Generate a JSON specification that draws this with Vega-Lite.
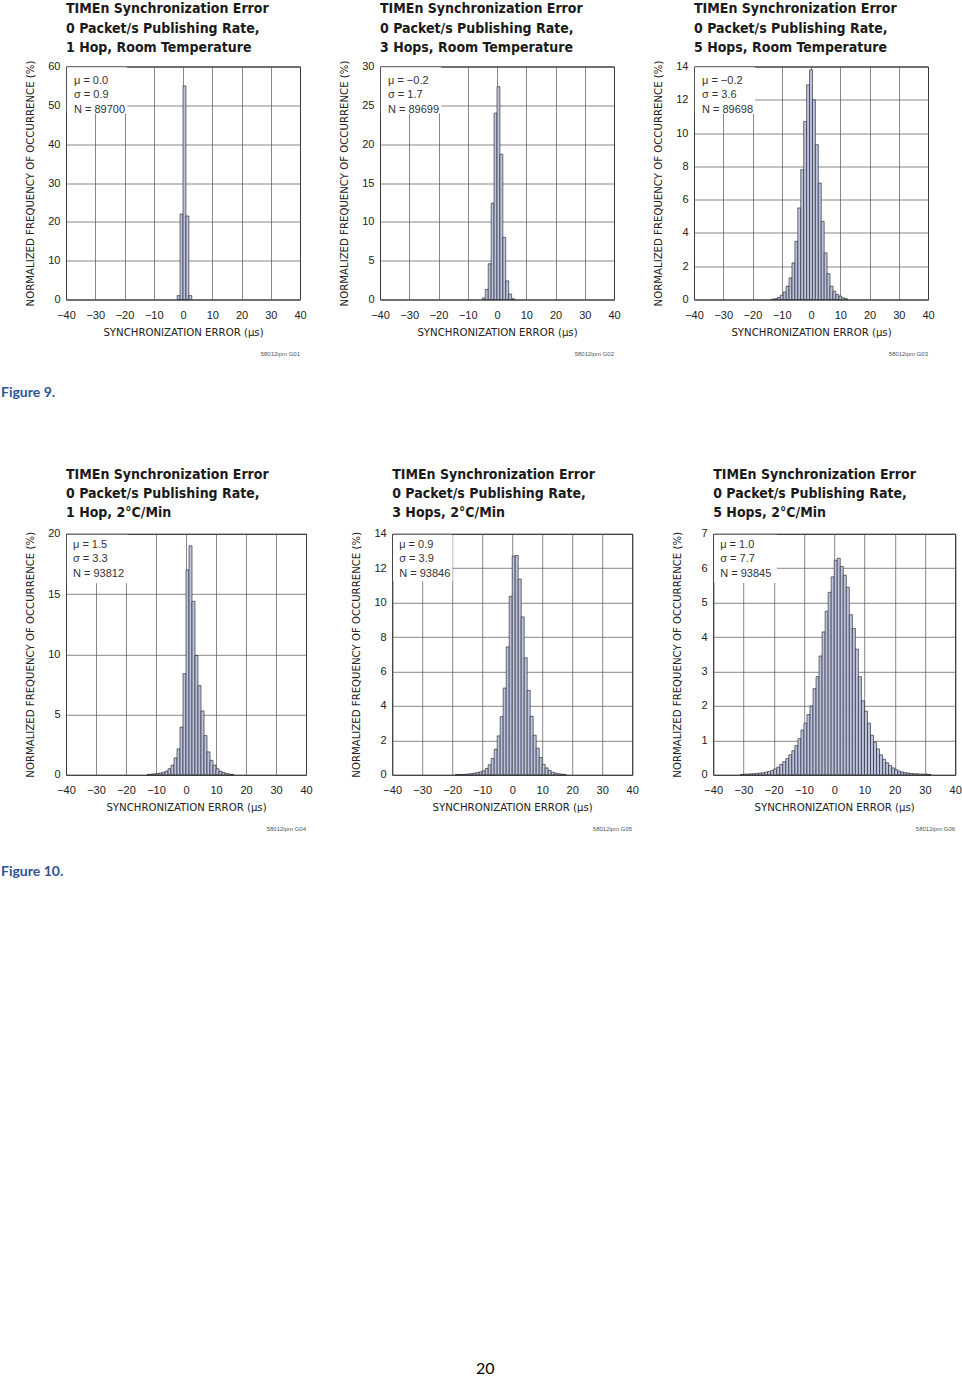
{
  "$schema": "https://vega.github.io/schema/vega-lite/v6.json",
  "background": "white",
  "padding": {"left": 0, "top": 1.5, "right": 0, "bottom": 0},
  "spacing": 66.3,
  "datasets": {
    "g01": [
      {"x0": -2, "x1": -1, "pct": 1.0},
      {"x0": -1, "x1": 0, "pct": 22.0},
      {"x0": 0, "x1": 1, "pct": 55.0},
      {"x0": 1, "x1": 2, "pct": 21.5},
      {"x0": 2, "x1": 3, "pct": 1.0}
    ],
    "g02": [
      {"x0": -5, "x1": -4, "pct": 0.2},
      {"x0": -4, "x1": -3, "pct": 1.3},
      {"x0": -3, "x1": -2, "pct": 4.6},
      {"x0": -2, "x1": -1, "pct": 12.4},
      {"x0": -1, "x1": 0, "pct": 24.0},
      {"x0": 0, "x1": 1, "pct": 27.4},
      {"x0": 1, "x1": 2, "pct": 18.7},
      {"x0": 2, "x1": 3, "pct": 8.0},
      {"x0": 3, "x1": 4, "pct": 2.4},
      {"x0": 4, "x1": 5, "pct": 0.7},
      {"x0": 5, "x1": 6, "pct": 0.1}
    ],
    "g03": [
      {"x0": -13.5, "x1": -12.5, "pct": 0.02},
      {"x0": -12.5, "x1": -11.5, "pct": 0.05},
      {"x0": -11.5, "x1": -10.5, "pct": 0.12},
      {"x0": -10.5, "x1": -9.5, "pct": 0.25},
      {"x0": -9.5, "x1": -8.5, "pct": 0.45},
      {"x0": -8.5, "x1": -7.5, "pct": 0.8},
      {"x0": -7.5, "x1": -6.5, "pct": 1.3},
      {"x0": -6.5, "x1": -5.5, "pct": 2.2},
      {"x0": -5.5, "x1": -4.5, "pct": 3.5},
      {"x0": -4.5, "x1": -3.5, "pct": 5.5},
      {"x0": -3.5, "x1": -2.5, "pct": 7.8},
      {"x0": -2.5, "x1": -1.5, "pct": 10.7},
      {"x0": -1.5, "x1": -0.5, "pct": 12.9},
      {"x0": -0.5, "x1": 0.5, "pct": 13.8},
      {"x0": 0.5, "x1": 1.5, "pct": 12.0},
      {"x0": 1.5, "x1": 2.5, "pct": 9.3},
      {"x0": 2.5, "x1": 3.5, "pct": 7.0},
      {"x0": 3.5, "x1": 4.5, "pct": 4.7},
      {"x0": 4.5, "x1": 5.5, "pct": 2.8},
      {"x0": 5.5, "x1": 6.5, "pct": 1.55},
      {"x0": 6.5, "x1": 7.5, "pct": 0.8},
      {"x0": 7.5, "x1": 8.5, "pct": 0.5},
      {"x0": 8.5, "x1": 9.5, "pct": 0.3},
      {"x0": 9.5, "x1": 10.5, "pct": 0.2},
      {"x0": 10.5, "x1": 11.5, "pct": 0.1},
      {"x0": 11.5, "x1": 12.5, "pct": 0.05}
    ],
    "g04": [
      {"x0": -13, "x1": -12, "pct": 0.03},
      {"x0": -12, "x1": -11, "pct": 0.05},
      {"x0": -11, "x1": -10, "pct": 0.08},
      {"x0": -10, "x1": -9, "pct": 0.1},
      {"x0": -9, "x1": -8, "pct": 0.15},
      {"x0": -8, "x1": -7, "pct": 0.2},
      {"x0": -7, "x1": -6, "pct": 0.3},
      {"x0": -6, "x1": -5, "pct": 0.5},
      {"x0": -5, "x1": -4, "pct": 0.8},
      {"x0": -4, "x1": -3, "pct": 1.4},
      {"x0": -3, "x1": -2, "pct": 2.15},
      {"x0": -2, "x1": -1, "pct": 3.95},
      {"x0": -1, "x1": 0, "pct": 8.4},
      {"x0": 0, "x1": 1, "pct": 17.0},
      {"x0": 1, "x1": 2, "pct": 19.0},
      {"x0": 2, "x1": 3, "pct": 14.4},
      {"x0": 3, "x1": 4, "pct": 9.9},
      {"x0": 4, "x1": 5, "pct": 7.4},
      {"x0": 5, "x1": 6, "pct": 5.3},
      {"x0": 6, "x1": 7, "pct": 3.25},
      {"x0": 7, "x1": 8, "pct": 1.9},
      {"x0": 8, "x1": 9, "pct": 1.2},
      {"x0": 9, "x1": 10, "pct": 0.8},
      {"x0": 10, "x1": 11, "pct": 0.5},
      {"x0": 11, "x1": 12, "pct": 0.3},
      {"x0": 12, "x1": 13, "pct": 0.2},
      {"x0": 13, "x1": 14, "pct": 0.1},
      {"x0": 14, "x1": 15, "pct": 0.07},
      {"x0": 15, "x1": 16, "pct": 0.03}
    ],
    "g05": [
      {"x0": -19, "x1": -18, "pct": 0.015},
      {"x0": -18, "x1": -17, "pct": 0.02},
      {"x0": -17, "x1": -16, "pct": 0.02},
      {"x0": -16, "x1": -15, "pct": 0.03},
      {"x0": -15, "x1": -14, "pct": 0.05},
      {"x0": -14, "x1": -13, "pct": 0.07},
      {"x0": -13, "x1": -12, "pct": 0.1},
      {"x0": -12, "x1": -11, "pct": 0.13},
      {"x0": -11, "x1": -10, "pct": 0.17},
      {"x0": -10, "x1": -9, "pct": 0.23},
      {"x0": -9, "x1": -8, "pct": 0.37},
      {"x0": -8, "x1": -7, "pct": 0.58},
      {"x0": -7, "x1": -6, "pct": 0.95},
      {"x0": -6, "x1": -5, "pct": 1.49},
      {"x0": -5, "x1": -4, "pct": 2.26},
      {"x0": -4, "x1": -3, "pct": 3.38},
      {"x0": -3, "x1": -2, "pct": 5.04},
      {"x0": -2, "x1": -1, "pct": 7.43},
      {"x0": -1, "x1": 0, "pct": 10.37},
      {"x0": 0, "x1": 1, "pct": 12.7},
      {"x0": 1, "x1": 2, "pct": 12.74},
      {"x0": 2, "x1": 3, "pct": 11.37},
      {"x0": 3, "x1": 4, "pct": 9.17},
      {"x0": 4, "x1": 5, "pct": 6.8},
      {"x0": 5, "x1": 6, "pct": 4.9},
      {"x0": 6, "x1": 7, "pct": 3.4},
      {"x0": 7, "x1": 8, "pct": 2.3},
      {"x0": 8, "x1": 9, "pct": 1.55},
      {"x0": 9, "x1": 10, "pct": 1.0},
      {"x0": 10, "x1": 11, "pct": 0.6},
      {"x0": 11, "x1": 12, "pct": 0.4},
      {"x0": 12, "x1": 13, "pct": 0.25},
      {"x0": 13, "x1": 14, "pct": 0.15},
      {"x0": 14, "x1": 15, "pct": 0.1},
      {"x0": 15, "x1": 16, "pct": 0.06},
      {"x0": 16, "x1": 17, "pct": 0.04},
      {"x0": 17, "x1": 18, "pct": 0.02}
    ],
    "g06": [
      {"x0": -31, "x1": -30, "pct": 0.01},
      {"x0": -30, "x1": -29, "pct": 0.02},
      {"x0": -29, "x1": -28, "pct": 0.02},
      {"x0": -28, "x1": -27, "pct": 0.03},
      {"x0": -27, "x1": -26, "pct": 0.03},
      {"x0": -26, "x1": -25, "pct": 0.04},
      {"x0": -25, "x1": -24, "pct": 0.05},
      {"x0": -24, "x1": -23, "pct": 0.06},
      {"x0": -23, "x1": -22, "pct": 0.08},
      {"x0": -22, "x1": -21, "pct": 0.1},
      {"x0": -21, "x1": -20, "pct": 0.13},
      {"x0": -20, "x1": -19, "pct": 0.17},
      {"x0": -19, "x1": -18, "pct": 0.22},
      {"x0": -18, "x1": -17, "pct": 0.3},
      {"x0": -17, "x1": -16, "pct": 0.38},
      {"x0": -16, "x1": -15, "pct": 0.47},
      {"x0": -15, "x1": -14, "pct": 0.58},
      {"x0": -14, "x1": -13, "pct": 0.7},
      {"x0": -13, "x1": -12, "pct": 0.85},
      {"x0": -12, "x1": -11, "pct": 1.05},
      {"x0": -11, "x1": -10, "pct": 1.3},
      {"x0": -10, "x1": -9, "pct": 1.5},
      {"x0": -9, "x1": -8, "pct": 1.75},
      {"x0": -8, "x1": -7, "pct": 2.0},
      {"x0": -7, "x1": -6, "pct": 2.5},
      {"x0": -6, "x1": -5, "pct": 2.85},
      {"x0": -5, "x1": -4, "pct": 3.45},
      {"x0": -4, "x1": -3, "pct": 4.15},
      {"x0": -3, "x1": -2, "pct": 4.75},
      {"x0": -2, "x1": -1, "pct": 5.3},
      {"x0": -1, "x1": 0, "pct": 5.75},
      {"x0": 0, "x1": 1, "pct": 6.23},
      {"x0": 1, "x1": 2, "pct": 6.29},
      {"x0": 2, "x1": 3, "pct": 6.05},
      {"x0": 3, "x1": 4, "pct": 5.8},
      {"x0": 4, "x1": 5, "pct": 5.45},
      {"x0": 5, "x1": 6, "pct": 4.65},
      {"x0": 6, "x1": 7, "pct": 4.25},
      {"x0": 7, "x1": 8, "pct": 3.65},
      {"x0": 8, "x1": 9, "pct": 2.85},
      {"x0": 9, "x1": 10, "pct": 2.15},
      {"x0": 10, "x1": 11, "pct": 1.85},
      {"x0": 11, "x1": 12, "pct": 1.5},
      {"x0": 12, "x1": 13, "pct": 1.15},
      {"x0": 13, "x1": 14, "pct": 0.95},
      {"x0": 14, "x1": 15, "pct": 0.75},
      {"x0": 15, "x1": 16, "pct": 0.58},
      {"x0": 16, "x1": 17, "pct": 0.45},
      {"x0": 17, "x1": 18, "pct": 0.35},
      {"x0": 18, "x1": 19, "pct": 0.27},
      {"x0": 19, "x1": 20, "pct": 0.2},
      {"x0": 20, "x1": 21, "pct": 0.15},
      {"x0": 21, "x1": 22, "pct": 0.11},
      {"x0": 22, "x1": 23, "pct": 0.08},
      {"x0": 23, "x1": 24, "pct": 0.06},
      {"x0": 24, "x1": 25, "pct": 0.05},
      {"x0": 25, "x1": 26, "pct": 0.04},
      {"x0": 26, "x1": 27, "pct": 0.03},
      {"x0": 27, "x1": 28, "pct": 0.03},
      {"x0": 28, "x1": 29, "pct": 0.02},
      {"x0": 29, "x1": 30, "pct": 0.02},
      {"x0": 30, "x1": 31, "pct": 0.02},
      {"x0": 31, "x1": 32, "pct": 0.01}
    ]
  },
  "vconcat": [
    {
      "spacing": 30,
      "hconcat": [
        {
          "width": 234, "height": 233,
          "title": {"text": ["TIMEn Synchronization Error", "0 Packet/s Publishing Rate,", "1 Hop, Room Temperature"], "offset": 5},
          "layer": [
            {"data": {"name": "g01"}, "mark": {"type": "rect", "fill": "#bcc3e1", "stroke": "#1a1a1a", "strokeWidth": 0.6},
             "encoding": {
               "x": {"field": "x0", "type": "quantitative", "scale": {"domain": [-40, 40], "nice": false}, "axis": {"values": [-40, -30, -20, -10, 0, 10, 20, 30, 40], "title": "SYNCHRONIZATION ERROR (µs)"}},
               "x2": {"field": "x1"},
               "y": {"field": "pct", "type": "quantitative", "scale": {"domain": [0, 60], "nice": false}, "axis": {"values": [0, 10, 20, 30, 40, 50, 60], "title": "NORMALIZED FREQUENCY OF OCCURRENCE (%)"}},
               "y2": {"datum": 0}
             }},
            {"data": {"values": [{}]}, "mark": {"type": "rect", "fill": "white"},
             "encoding": {
               "x": {"datum": -39.7, "axis": {"values": [-40, -30, -20, -10, 0, 10, 20, 30, 40], "title": "SYNCHRONIZATION ERROR (µs)"}},
               "x2": {"datum": -19.1},
               "y": {"datum": 59.8, "axis": {"values": [0, 10, 20, 30, 40, 50, 60], "title": "NORMALIZED FREQUENCY OF OCCURRENCE (%)"}},
               "y2": {"datum": 47.9}}},
            {"data": {"values": [{}]}, "mark": {"type": "text", "align": "left", "baseline": "top", "dx": 8, "dy": 8, "lineBreak": "\n", "lineHeight": 14.5, "fontSize": 11, "color": "#333"},
             "encoding": {
               "x": {"datum": -40, "axis": {"values": [-40, -30, -20, -10, 0, 10, 20, 30, 40], "title": "SYNCHRONIZATION ERROR (µs)"}},
               "y": {"datum": 60, "axis": {"values": [0, 10, 20, 30, 40, 50, 60], "title": "NORMALIZED FREQUENCY OF OCCURRENCE (%)"}},
               "text": {"value": "μ = 0.0\nσ = 0.9\nN = 89700"}}},
            {"data": {"values": [{}]}, "mark": {"type": "text", "align": "right", "baseline": "top", "dy": 51, "fontSize": 6, "color": "#555"},
             "encoding": {
               "x": {"datum": 40, "axis": {"values": [-40, -30, -20, -10, 0, 10, 20, 30, 40], "title": "SYNCHRONIZATION ERROR (µs)"}},
               "y": {"datum": 0, "axis": {"values": [0, 10, 20, 30, 40, 50, 60], "title": "NORMALIZED FREQUENCY OF OCCURRENCE (%)"}},
               "text": {"value": "58012ipm G01"}}},
            {"data": {"values": [{}]}, "mark": {"type": "text", "align": "left", "baseline": "alphabetic", "dx": -65, "dy": 97, "font": "Lato", "fontWeight": "bold", "fontSize": 14, "color": "#2f5496"},
             "encoding": {
               "x": {"datum": -40, "axis": {"values": [-40, -30, -20, -10, 0, 10, 20, 30, 40], "title": "SYNCHRONIZATION ERROR (µs)"}},
               "y": {"datum": 0, "axis": {"values": [0, 10, 20, 30, 40, 50, 60], "title": "NORMALIZED FREQUENCY OF OCCURRENCE (%)"}},
               "text": {"value": "Figure 9."}}}
          ]
        },
        {
          "width": 234, "height": 233,
          "title": {"text": ["TIMEn Synchronization Error", "0 Packet/s Publishing Rate,", "3 Hops, Room Temperature"], "offset": 5},
          "layer": [
            {"data": {"name": "g02"}, "mark": {"type": "rect", "fill": "#bcc3e1", "stroke": "#1a1a1a", "strokeWidth": 0.6},
             "encoding": {
               "x": {"field": "x0", "type": "quantitative", "scale": {"domain": [-40, 40], "nice": false}, "axis": {"values": [-40, -30, -20, -10, 0, 10, 20, 30, 40], "title": "SYNCHRONIZATION ERROR (µs)"}},
               "x2": {"field": "x1"},
               "y": {"field": "pct", "type": "quantitative", "scale": {"domain": [0, 30], "nice": false}, "axis": {"values": [0, 5, 10, 15, 20, 25, 30], "title": "NORMALIZED FREQUENCY OF OCCURRENCE (%)"}},
               "y2": {"datum": 0}
             }},
            {"data": {"values": [{}]}, "mark": {"type": "rect", "fill": "white"},
             "encoding": {
               "x": {"datum": -39.7, "axis": {"values": [-40, -30, -20, -10, 0, 10, 20, 30, 40], "title": "SYNCHRONIZATION ERROR (µs)"}},
               "x2": {"datum": -19.1},
               "y": {"datum": 29.9, "axis": {"values": [0, 5, 10, 15, 20, 25, 30], "title": "NORMALIZED FREQUENCY OF OCCURRENCE (%)"}},
               "y2": {"datum": 23.95}}},
            {"data": {"values": [{}]}, "mark": {"type": "text", "align": "left", "baseline": "top", "dx": 8, "dy": 8, "lineBreak": "\n", "lineHeight": 14.5, "fontSize": 11, "color": "#333"},
             "encoding": {
               "x": {"datum": -40, "axis": {"values": [-40, -30, -20, -10, 0, 10, 20, 30, 40], "title": "SYNCHRONIZATION ERROR (µs)"}},
               "y": {"datum": 30, "axis": {"values": [0, 5, 10, 15, 20, 25, 30], "title": "NORMALIZED FREQUENCY OF OCCURRENCE (%)"}},
               "text": {"value": "μ = −0.2\nσ = 1.7\nN = 89699"}}},
            {"data": {"values": [{}]}, "mark": {"type": "text", "align": "right", "baseline": "top", "dy": 51, "fontSize": 6, "color": "#555"},
             "encoding": {
               "x": {"datum": 40, "axis": {"values": [-40, -30, -20, -10, 0, 10, 20, 30, 40], "title": "SYNCHRONIZATION ERROR (µs)"}},
               "y": {"datum": 0, "axis": {"values": [0, 5, 10, 15, 20, 25, 30], "title": "NORMALIZED FREQUENCY OF OCCURRENCE (%)"}},
               "text": {"value": "58012ipm G02"}}}
          ]
        },
        {
          "width": 234, "height": 233,
          "title": {"text": ["TIMEn Synchronization Error", "0 Packet/s Publishing Rate,", "5 Hops, Room Temperature"], "offset": 5},
          "layer": [
            {"data": {"name": "g03"}, "mark": {"type": "rect", "fill": "#bcc3e1", "stroke": "#1a1a1a", "strokeWidth": 0.6},
             "encoding": {
               "x": {"field": "x0", "type": "quantitative", "scale": {"domain": [-40, 40], "nice": false}, "axis": {"values": [-40, -30, -20, -10, 0, 10, 20, 30, 40], "title": "SYNCHRONIZATION ERROR (µs)"}},
               "x2": {"field": "x1"},
               "y": {"field": "pct", "type": "quantitative", "scale": {"domain": [0, 14], "nice": false}, "axis": {"values": [0, 2, 4, 6, 8, 10, 12, 14], "title": "NORMALIZED FREQUENCY OF OCCURRENCE (%)"}},
               "y2": {"datum": 0}
             }},
            {"data": {"values": [{}]}, "mark": {"type": "rect", "fill": "white"},
             "encoding": {
               "x": {"datum": -39.7, "axis": {"values": [-40, -30, -20, -10, 0, 10, 20, 30, 40], "title": "SYNCHRONIZATION ERROR (µs)"}},
               "x2": {"datum": -19.1},
               "y": {"datum": 13.95, "axis": {"values": [0, 2, 4, 6, 8, 10, 12, 14], "title": "NORMALIZED FREQUENCY OF OCCURRENCE (%)"}},
               "y2": {"datum": 11.18}}},
            {"data": {"values": [{}]}, "mark": {"type": "text", "align": "left", "baseline": "top", "dx": 8, "dy": 8, "lineBreak": "\n", "lineHeight": 14.5, "fontSize": 11, "color": "#333"},
             "encoding": {
               "x": {"datum": -40, "axis": {"values": [-40, -30, -20, -10, 0, 10, 20, 30, 40], "title": "SYNCHRONIZATION ERROR (µs)"}},
               "y": {"datum": 14, "axis": {"values": [0, 2, 4, 6, 8, 10, 12, 14], "title": "NORMALIZED FREQUENCY OF OCCURRENCE (%)"}},
               "text": {"value": "μ = −0.2\nσ = 3.6\nN = 89698"}}},
            {"data": {"values": [{}]}, "mark": {"type": "text", "align": "right", "baseline": "top", "dy": 51, "fontSize": 6, "color": "#555"},
             "encoding": {
               "x": {"datum": 40, "axis": {"values": [-40, -30, -20, -10, 0, 10, 20, 30, 40], "title": "SYNCHRONIZATION ERROR (µs)"}},
               "y": {"datum": 0, "axis": {"values": [0, 2, 4, 6, 8, 10, 12, 14], "title": "NORMALIZED FREQUENCY OF OCCURRENCE (%)"}},
               "text": {"value": "58012ipm G03"}}}
          ]
        }
      ]
    },
    {
      "spacing": 36.2,
      "hconcat": [
        {
          "width": 240, "height": 241,
          "title": {"text": ["TIMEn Synchronization Error", "0 Packet/s Publishing Rate,", "1 Hop, 2°C/Min"], "offset": 7.4},
          "layer": [
            {"data": {"name": "g04"}, "mark": {"type": "rect", "fill": "#bcc3e1", "stroke": "#1a1a1a", "strokeWidth": 0.6},
             "encoding": {
               "x": {"field": "x0", "type": "quantitative", "scale": {"domain": [-40, 40], "nice": false}, "axis": {"values": [-40, -30, -20, -10, 0, 10, 20, 30, 40], "title": "SYNCHRONIZATION ERROR (µs)"}},
               "x2": {"field": "x1"},
               "y": {"field": "pct", "type": "quantitative", "scale": {"domain": [0, 20], "nice": false}, "axis": {"values": [0, 5, 10, 15, 20], "title": "NORMALIZED FREQUENCY OF OCCURRENCE (%)"}},
               "y2": {"datum": 0}
             }},
            {"data": {"values": [{}]}, "mark": {"type": "rect", "fill": "white"},
             "encoding": {
               "x": {"datum": -39.7, "axis": {"values": [-40, -30, -20, -10, 0, 10, 20, 30, 40], "title": "SYNCHRONIZATION ERROR (µs)"}},
               "x2": {"datum": -19.4},
               "y": {"datum": 19.93, "axis": {"values": [0, 5, 10, 15, 20], "title": "NORMALIZED FREQUENCY OF OCCURRENCE (%)"}},
               "y2": {"datum": 15.9}}},
            {"data": {"values": [{}]}, "mark": {"type": "text", "align": "left", "baseline": "top", "dx": 7, "dy": 5, "lineBreak": "\n", "lineHeight": 14.5, "fontSize": 11, "color": "#333"},
             "encoding": {
               "x": {"datum": -40, "axis": {"values": [-40, -30, -20, -10, 0, 10, 20, 30, 40], "title": "SYNCHRONIZATION ERROR (µs)"}},
               "y": {"datum": 20, "axis": {"values": [0, 5, 10, 15, 20], "title": "NORMALIZED FREQUENCY OF OCCURRENCE (%)"}},
               "text": {"value": "μ = 1.5\nσ = 3.3\nN = 93812"}}},
            {"data": {"values": [{}]}, "mark": {"type": "text", "align": "right", "baseline": "top", "dy": 51, "fontSize": 6, "color": "#555"},
             "encoding": {
               "x": {"datum": 40, "axis": {"values": [-40, -30, -20, -10, 0, 10, 20, 30, 40], "title": "SYNCHRONIZATION ERROR (µs)"}},
               "y": {"datum": 0, "axis": {"values": [0, 5, 10, 15, 20], "title": "NORMALIZED FREQUENCY OF OCCURRENCE (%)"}},
               "text": {"value": "58012ipm G04"}}},
            {"data": {"values": [{}]}, "mark": {"type": "text", "align": "left", "baseline": "alphabetic", "dx": -65, "dy": 101, "font": "Lato", "fontWeight": "bold", "fontSize": 14, "color": "#2f5496"},
             "encoding": {
               "x": {"datum": -40, "axis": {"values": [-40, -30, -20, -10, 0, 10, 20, 30, 40], "title": "SYNCHRONIZATION ERROR (µs)"}},
               "y": {"datum": 0, "axis": {"values": [0, 5, 10, 15, 20], "title": "NORMALIZED FREQUENCY OF OCCURRENCE (%)"}},
               "text": {"value": "Figure 10."}}}
          ]
        },
        {
          "spacing": 31,
          "hconcat": [
            {
              "width": 240, "height": 241,
              "title": {"text": ["TIMEn Synchronization Error", "0 Packet/s Publishing Rate,", "3 Hops, 2°C/Min"], "offset": 7.4},
              "layer": [
                {"data": {"name": "g05"}, "mark": {"type": "rect", "fill": "#bcc3e1", "stroke": "#1a1a1a", "strokeWidth": 0.6},
                 "encoding": {
                   "x": {"field": "x0", "type": "quantitative", "scale": {"domain": [-40, 40], "nice": false}, "axis": {"values": [-40, -30, -20, -10, 0, 10, 20, 30, 40], "title": "SYNCHRONIZATION ERROR (µs)"}},
                   "x2": {"field": "x1"},
                   "y": {"field": "pct", "type": "quantitative", "scale": {"domain": [0, 14], "nice": false}, "axis": {"values": [0, 2, 4, 6, 8, 10, 12, 14], "title": "NORMALIZED FREQUENCY OF OCCURRENCE (%)"}},
                   "y2": {"datum": 0}
                 }},
                {"data": {"values": [{}]}, "mark": {"type": "rect", "fill": "white"},
                 "encoding": {
                   "x": {"datum": -39.7, "axis": {"values": [-40, -30, -20, -10, 0, 10, 20, 30, 40], "title": "SYNCHRONIZATION ERROR (µs)"}},
                   "x2": {"datum": -19.9},
                   "y": {"datum": 13.95, "axis": {"values": [0, 2, 4, 6, 8, 10, 12, 14], "title": "NORMALIZED FREQUENCY OF OCCURRENCE (%)"}},
                   "y2": {"datum": 11.25}}},
                {"data": {"values": [{}]}, "mark": {"type": "text", "align": "left", "baseline": "top", "dx": 7, "dy": 5, "lineBreak": "\n", "lineHeight": 14.5, "fontSize": 11, "color": "#333"},
                 "encoding": {
                   "x": {"datum": -40, "axis": {"values": [-40, -30, -20, -10, 0, 10, 20, 30, 40], "title": "SYNCHRONIZATION ERROR (µs)"}},
                   "y": {"datum": 14, "axis": {"values": [0, 2, 4, 6, 8, 10, 12, 14], "title": "NORMALIZED FREQUENCY OF OCCURRENCE (%)"}},
                   "text": {"value": "μ = 0.9\nσ = 3.9\nN = 93846"}}},
                {"data": {"values": [{}]}, "mark": {"type": "text", "align": "right", "baseline": "top", "dy": 51, "fontSize": 6, "color": "#555"},
                 "encoding": {
                   "x": {"datum": 40, "axis": {"values": [-40, -30, -20, -10, 0, 10, 20, 30, 40], "title": "SYNCHRONIZATION ERROR (µs)"}},
                   "y": {"datum": 0, "axis": {"values": [0, 2, 4, 6, 8, 10, 12, 14], "title": "NORMALIZED FREQUENCY OF OCCURRENCE (%)"}},
                   "text": {"value": "58012ipm G05"}}},
                {"data": {"values": [{}]}, "mark": {"type": "text", "align": "center", "baseline": "alphabetic", "dx": -27, "dy": 599, "font": "Lato", "fontSize": 16, "color": "#000"},
                 "encoding": {
                   "x": {"datum": 0, "axis": {"values": [-40, -30, -20, -10, 0, 10, 20, 30, 40], "title": "SYNCHRONIZATION ERROR (µs)"}},
                   "y": {"datum": 0, "axis": {"values": [0, 2, 4, 6, 8, 10, 12, 14], "title": "NORMALIZED FREQUENCY OF OCCURRENCE (%)"}},
                   "text": {"value": "20"}}}
              ]
            },
            {
              "width": 242, "height": 241,
              "title": {"text": ["TIMEn Synchronization Error", "0 Packet/s Publishing Rate,", "5 Hops, 2°C/Min"], "offset": 7.4},
              "layer": [
                {"data": {"name": "g06"}, "mark": {"type": "rect", "fill": "#bcc3e1", "stroke": "#1a1a1a", "strokeWidth": 0.6},
                 "encoding": {
                   "x": {"field": "x0", "type": "quantitative", "scale": {"domain": [-40, 40], "nice": false}, "axis": {"values": [-40, -30, -20, -10, 0, 10, 20, 30, 40], "title": "SYNCHRONIZATION ERROR (µs)"}},
                   "x2": {"field": "x1"},
                   "y": {"field": "pct", "type": "quantitative", "scale": {"domain": [0, 7], "nice": false}, "axis": {"values": [0, 1, 2, 3, 4, 5, 6, 7], "title": "NORMALIZED FREQUENCY OF OCCURRENCE (%)"}},
                   "y2": {"datum": 0}
                 }},
                {"data": {"values": [{}]}, "mark": {"type": "rect", "fill": "white"},
                 "encoding": {
                   "x": {"datum": -39.7, "axis": {"values": [-40, -30, -20, -10, 0, 10, 20, 30, 40], "title": "SYNCHRONIZATION ERROR (µs)"}},
                   "x2": {"datum": -18.9},
                   "y": {"datum": 6.97, "axis": {"values": [0, 1, 2, 3, 4, 5, 6, 7], "title": "NORMALIZED FREQUENCY OF OCCURRENCE (%)"}},
                   "y2": {"datum": 5.57}}},
                {"data": {"values": [{}]}, "mark": {"type": "text", "align": "left", "baseline": "top", "dx": 7, "dy": 5, "lineBreak": "\n", "lineHeight": 14.5, "fontSize": 11, "color": "#333"},
                 "encoding": {
                   "x": {"datum": -40, "axis": {"values": [-40, -30, -20, -10, 0, 10, 20, 30, 40], "title": "SYNCHRONIZATION ERROR (µs)"}},
                   "y": {"datum": 7, "axis": {"values": [0, 1, 2, 3, 4, 5, 6, 7], "title": "NORMALIZED FREQUENCY OF OCCURRENCE (%)"}},
                   "text": {"value": "μ = 1.0\nσ = 7.7\nN = 93845"}}},
                {"data": {"values": [{}]}, "mark": {"type": "text", "align": "right", "baseline": "top", "dy": 51, "fontSize": 6, "color": "#555"},
                 "encoding": {
                   "x": {"datum": 40, "axis": {"values": [-40, -30, -20, -10, 0, 10, 20, 30, 40], "title": "SYNCHRONIZATION ERROR (µs)"}},
                   "y": {"datum": 0, "axis": {"values": [0, 1, 2, 3, 4, 5, 6, 7], "title": "NORMALIZED FREQUENCY OF OCCURRENCE (%)"}},
                   "text": {"value": "58012ipm G06"}}}
              ]
            }
          ]
        }
      ]
    }
  ],
  "config": {
    "font": "Liberation Sans",
    "view": {"stroke": "#000", "strokeWidth": 1},
    "text": {"font": "Liberation Sans"},
    "axis": {
      "grid": true, "gridColor": "#555", "gridWidth": 0.7, "gridOpacity": 1,
      "ticks": false, "domain": false,
      "labelFont": "Liberation Sans", "labelFontSize": 11, "labelColor": "#222",
      "labelOverlap": false, "labelFlush": false, "labelBound": false,
      "titleFont": "DejaVu Sans Condensed, DejaVu Sans, sans-serif", "titleFontSize": 11.3, "titleFontWeight": "normal", "titleColor": "#222"
    },
    "axisX": {"labelPadding": 9.5, "minExtent": 18, "maxExtent": 18, "titlePadding": 9},
    "axisY": {"labelPadding": 6, "minExtent": 18, "maxExtent": 18, "titlePadding": 13},
    "title": {
      "anchor": "start", "frame": "group",
      "font": "DejaVu Sans Condensed, DejaVu Sans, sans-serif",
      "fontSize": 14, "fontWeight": "bold", "color": "#1a1a1a",
      "lineHeight": 19.4, "baseline": "bottom"
    }
  }
}
